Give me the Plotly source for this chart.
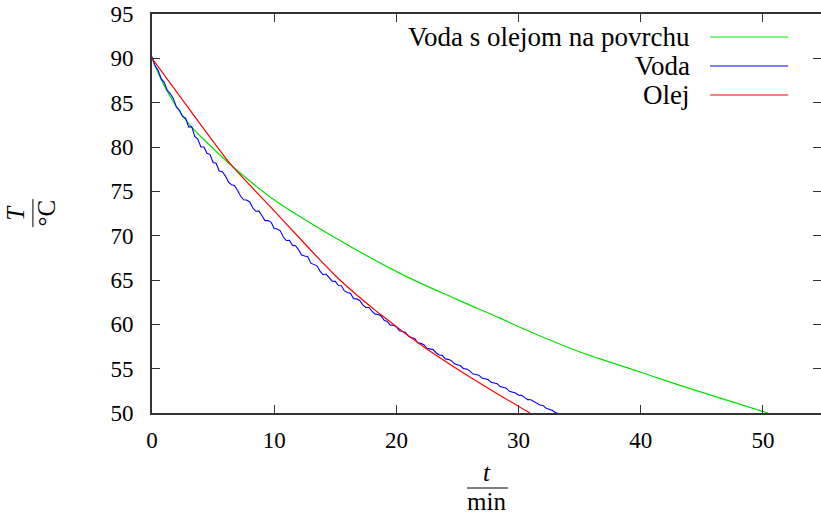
import plotly.graph_objects as go

# ---- data ----
# Voda s olejom na povrchu (green)
t_green = [0, 1.2, 2.97, 4.88, 6.93, 9.93, 14.57, 20.3, 24.8, 28.48, 30.39, 34.6, 36.66, 40, 43.48, 50.4]
T_green = [90, 86.4, 82.7, 80.0, 77.4, 74.1, 70.1, 65.75, 62.9, 60.7, 59.5, 57.1, 56.1, 54.6, 53.0, 50.0]

# Olej (red)
t_red = [0, 2.45, 5.43, 6.38, 10, 15.38, 18.66, 22.2, 26.84, 30.93]
T_red = [90, 85.4, 79.85, 78.16, 72.8, 65.0, 61.16, 57.5, 53.35, 50.0]

# Voda (blue) - measured every 0.25 min
blue_step = 0.25
T_blue = [
    90.2, 89.15, 88.65, 87.7, 87.3, 86.4, 86.0, 85.45, 84.5, 84.15,
    83.45, 83.25, 82.25, 82.3, 81.2, 80.9, 80.0, 80.0, 79.3, 79.15,
    78.25, 78.17, 77.3, 77.22, 76.75, 76.07, 75.75, 75.67, 75.1, 74.47,
    74.05, 74.02, 73.8, 73.12, 72.75, 72.77, 72.25, 71.7, 71.7, 71.5,
    70.8, 70.75, 70.55, 69.85, 69.45, 69.47, 68.9, 68.87, 68.4, 67.82,
    67.7, 67.62, 66.9, 66.75, 66.6, 66.0, 65.6, 65.67, 65.3, 64.87,
    64.85, 64.37, 64.35, 63.77, 63.6, 63.47, 62.9, 62.87, 62.7, 62.2,
    61.9, 61.9, 61.5, 61.15, 61.1, 60.95, 60.45, 60.32, 59.9, 59.92,
    59.7, 59.27, 59.2, 59.07, 58.65, 58.47, 58.4, 57.92, 57.85, 57.7,
    57.3, 57.25, 57.15, 56.8, 56.55, 56.5, 56.1, 56.05, 55.9, 55.55,
    55.4, 55.32, 55.0, 54.97, 54.75, 54.42, 54.35, 54.27, 53.95, 53.89,
    53.78, 53.46, 53.35, 53.29, 52.98, 52.91, 52.8, 52.44, 52.38, 52.26,
    52.0, 51.99, 51.73, 51.51, 51.5, 51.29, 51.03, 50.91, 50.85, 50.54,
    50.43, 50.31, 50.05, 49.95,
]
t_blue = [i * blue_step for i in range(len(T_blue))]

series_names = ["Voda s olejom na povrchu", "Voda", "Olej"]
series_colors = ["#00e000", "#0000ff", "#ff0000"]

x_ticks = [0, 10, 20, 30, 40, 50]
y_ticks = [50, 55, 60, 65, 70, 75, 80, 85, 90, 95]
x_range = [0, 54.75]
y_range = [50, 95]

FONT = "Liberation Serif, DejaVu Serif, serif"
AX = "#333333"
TICK_SIZE = 23
TEXT_SIZE = 25
LEGEND_SIZE = 27

fig = go.Figure()
fig.add_trace(go.Scatter(x=t_green, y=T_green, mode="lines", line=dict(color=series_colors[0], width=1.2, shape="spline"), name=series_names[0]))
fig.add_trace(go.Scatter(x=t_blue, y=T_blue, mode="lines", line=dict(color=series_colors[1], width=1.1), name=series_names[1]))
fig.add_trace(go.Scatter(x=t_red, y=T_red, mode="lines", line=dict(color=series_colors[2], width=1.2, shape="spline"), name=series_names[2]))
# helper trace for mirrored axes
fig.add_trace(go.Scatter(x=[None], y=[None], xaxis="x2", yaxis="y2", showlegend=False, hoverinfo="skip"))

fig.update_layout(
    width=821, height=515,
    margin=dict(l=152, r=0, t=14, b=102),
    paper_bgcolor="white", plot_bgcolor="white",
    showlegend=False,
    font=dict(family=FONT, size=TICK_SIZE, color="black"),
    xaxis=dict(range=x_range, tickvals=x_ticks, ticks="inside", ticklen=8, tickwidth=1, tickcolor=AX,
               showline=True, linecolor=AX, linewidth=1.6, showgrid=False, zeroline=False,
               ticklabelstandoff=6, tickfont=dict(family=FONT, size=TICK_SIZE)),
    yaxis=dict(range=y_range, tickvals=y_ticks, ticks="inside", ticklen=8, tickwidth=1, tickcolor=AX,
               showline=True, linecolor=AX, linewidth=1.6, showgrid=False, zeroline=False,
               ticklabelstandoff=12, tickfont=dict(family=FONT, size=TICK_SIZE)),
    xaxis2=dict(range=x_range, tickvals=x_ticks, ticks="inside", ticklen=8, tickwidth=1, tickcolor=AX,
                overlaying="x", side="top", anchor="y", showticklabels=False,
                showline=True, linecolor=AX, linewidth=1.6, showgrid=False, zeroline=False),
    yaxis2=dict(range=y_range, tickvals=y_ticks, ticks="inside", ticklen=8, tickwidth=1, tickcolor=AX,
                overlaying="y", side="right", anchor="x", showticklabels=False,
                showline=False, showgrid=False, zeroline=False),
)

# manual legend (text left of the line sample, gnuplot style)
leg_y = [0.9424, 0.8697, 0.7970]
for name, col, yy in zip(series_names, series_colors, leg_y):
    fig.add_annotation(x=0.807, y=yy, xref="paper", yref="paper", text=name, showarrow=False,
                       xanchor="right", yanchor="middle", font=dict(family=FONT, size=LEGEND_SIZE))
    fig.add_shape(type="line", xref="paper", yref="paper", x0=0.834, x1=0.951, y0=yy, y1=yy,
                  line=dict(color=col, width=1.2))

# axis labels as fractions
fig.add_annotation(x=0.5007, y=-0.148, xref="paper", yref="paper", text="<i>t</i>", showarrow=False,
                   xanchor="center", yanchor="middle", font=dict(family=FONT, size=TEXT_SIZE))
fig.add_shape(type="line", xref="paper", yref="paper", x0=0.4709, x1=0.532, y0=-0.188, y1=-0.188,
              line=dict(color="black", width=1))
fig.add_annotation(x=0.5007, y=-0.222, xref="paper", yref="paper", text="min", showarrow=False,
                   xanchor="center", yanchor="middle", font=dict(family=FONT, size=TEXT_SIZE))

fig.add_annotation(x=-0.204, y=0.501, xref="paper", yref="paper", text="<i>T</i>", showarrow=False,
                   textangle=-90, xanchor="center", yanchor="middle", font=dict(family=FONT, size=TEXT_SIZE))
fig.add_shape(type="line", xref="paper", yref="paper", x0=-0.178, x1=-0.178, y0=0.466, y1=0.536,
              line=dict(color="black", width=1))
fig.add_annotation(x=-0.1577, y=0.501, xref="paper", yref="paper", text="°C", showarrow=False,
                   textangle=-90, xanchor="center", yanchor="middle", font=dict(family=FONT, size=TEXT_SIZE))

# remove the default 8px page margin so the figure sits at the window's corner
fig.write_html("out.html", config={"displayModeBar": False},
               post_script="document.body.style.margin='0';")
